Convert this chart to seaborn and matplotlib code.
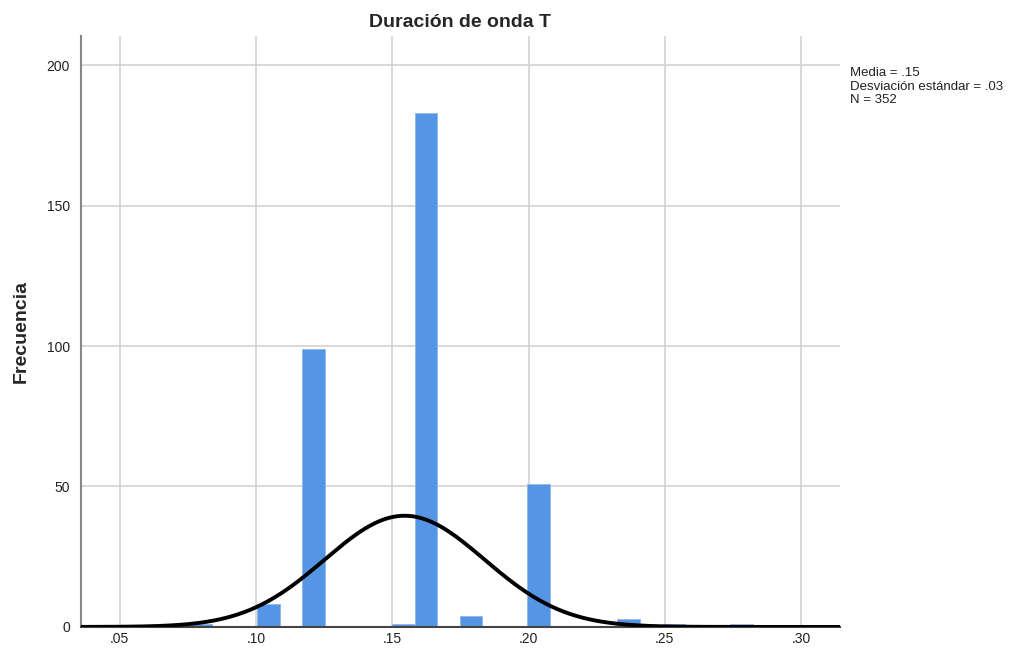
import numpy as np
import pandas as pd
import matplotlib
matplotlib.use("Agg")
import matplotlib.pyplot as plt
import seaborn as sns

values = [0.0794, 0.1044, 0.1208, 0.1544, 0.1625, 0.1790, 0.2043, 0.2380, 0.2553, 0.2800]
counts = [1, 8, 99, 1, 183, 4, 51, 3, 1, 1]
mean_val = 0.1545
sd_val = 0.0293
n_total = 352
bin_start = 0.0757
bin_width = 0.00826
n_bins = 28
x_ticks = [0.05, 0.10, 0.15, 0.20, 0.25, 0.30]
x_tick_labels = [".05", ".10", ".15", ".20", ".25", ".30"]
y_ticks = [0, 50, 100, 150, 200]

sns.set_style("white")
plt.rcParams['font.family'] = ['Liberation Sans', 'DejaVu Sans']

fig = plt.figure(figsize=(10.24, 6.49), dpi=100)
ax = fig.add_axes([0.079, 0.034, 0.7413, 0.911])

df = pd.DataFrame({"valor": values, "n": counts})
sns.histplot(data=df, x="valor", weights="n", binwidth=bin_width,
             binrange=(bin_start, bin_start + n_bins * bin_width), ax=ax,
             color="#5495e6", alpha=1.0, edgecolor="#8fb8ee", linewidth=0.6, zorder=2)

xs = np.linspace(0.0357, 0.3143, 500)
ys = n_total * bin_width / (sd_val * np.sqrt(2 * np.pi)) * np.exp(-0.5 * ((xs - mean_val) / sd_val) ** 2)
sns.lineplot(x=xs, y=ys, ax=ax, color="black", linewidth=2.8, zorder=3)

ax.set_xlim(0.0357, 0.3143)
ax.set_ylim(0, 210.5)
ax.set_xticks(x_ticks)
ax.set_xticklabels(x_tick_labels)
ax.set_yticks(y_ticks)
ax.grid(True, color="#d2d2d2", linewidth=1.2, zorder=0)
ax.set_axisbelow(True)
for s in ["top", "right"]:
    ax.spines[s].set_visible(False)
ax.spines["left"].set_color("#888888")
ax.spines["left"].set_linewidth(1.5)
ax.spines["bottom"].set_color("#444444")
ax.spines["bottom"].set_linewidth(1.5)
ax.tick_params(axis="y", labelsize=10, length=0, pad=8, colors="#222222")
ax.tick_params(axis="x", labelsize=10, length=0, pad=4, colors="#222222")
ax.set_xlabel("")
ax.set_ylabel("Frecuencia", fontsize=14, fontweight="bold")
ax.yaxis.set_label_coords(-0.068, 0.5)
ax.set_title("Duración de onda T", fontsize=14, fontweight="bold", pad=6)

fig.text(0.830, 0.897, "Media = .15\nDesviación estándar = .03\nN = 352",
         fontsize=9.5, va="top", ha="left", linespacing=1.2, color="#222222")

fig.savefig("out.png", dpi=100)
